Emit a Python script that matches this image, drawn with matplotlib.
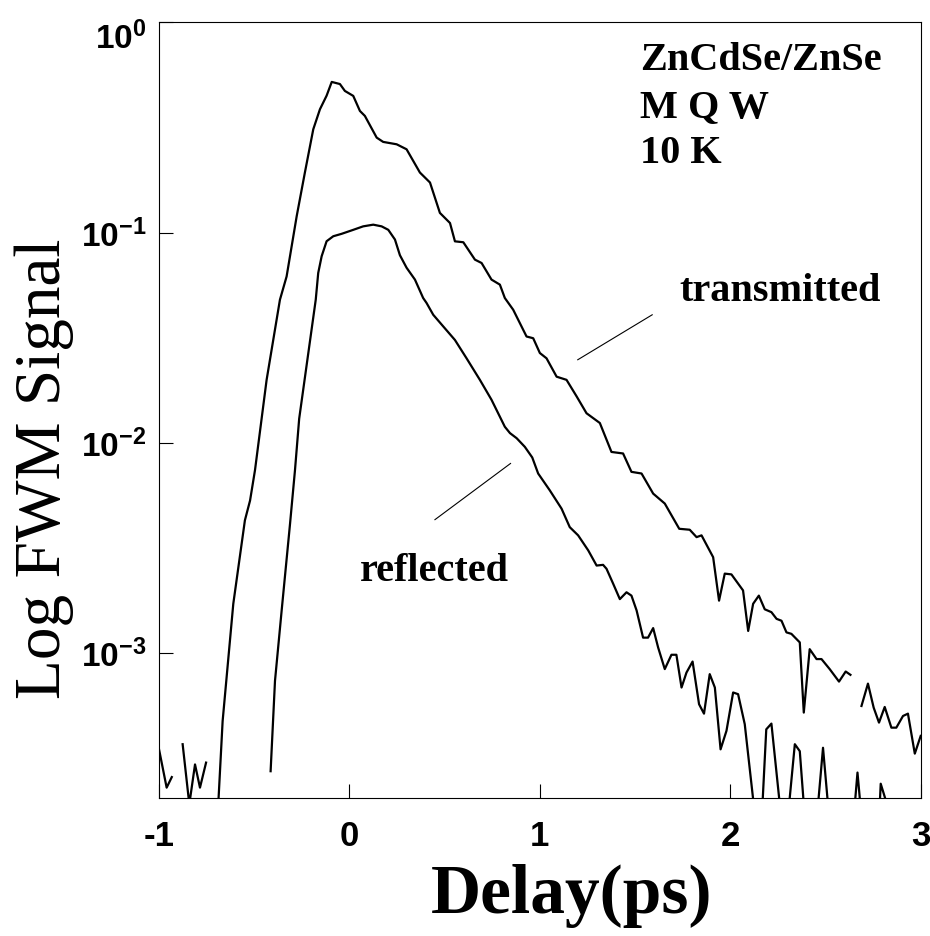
import numpy as np
import matplotlib
matplotlib.use("Agg")
import matplotlib.pyplot as plt
from matplotlib.transforms import ScaledTranslation

# ── data ─────────────────────────────────────────────────────────────────────
# NaN breaks the line where the trace has gaps
trans_delay = [
    -1.000, -0.960, -0.933, np.nan,
    -0.876, -0.841, -0.811, -0.785, -0.753, np.nan,
    -0.689, -0.666, -0.610, -0.549, -0.522, -0.496, -0.435, -0.365, -0.330,
    -0.277, -0.234, -0.190, -0.155, -0.120, -0.093, -0.050, -0.024, 0.020,
    0.055, 0.081, 0.143, 0.177, 0.248, 0.300, 0.370, 0.423, 0.475, 0.528,
    0.554, 0.598, 0.659, 0.694, 0.746, 0.790, 0.816, 0.860, 0.930, 0.965,
    1.000, 1.035, 1.088, 1.140, 1.193, 1.245, 1.315, 1.376, 1.437, 1.481,
    1.534, 1.595, 1.656, 1.732, 1.787, 1.823, 1.849, 1.910, 1.941, 1.971,
    2.006, 2.067, 2.094, 2.120, 2.150, 2.181, 2.216, 2.243, 2.269, 2.295,
    2.321, 2.365, 2.386, 2.417, 2.453, 2.479, 2.522, 2.571, 2.606, 2.631,
    np.nan,
    2.689, 2.723, 2.753, 2.781, 2.811, 2.846, 2.872, 2.907, 2.933, 2.969,
    3.000,
]
trans_signal = [
    3.47e-4, 2.28e-4, 2.56e-4, np.nan,
    3.67e-4, 1.9e-4, 2.94e-4, 2.28e-4, 3.0e-4, np.nan,
    1.9e-4, 4.73e-4, 1.71e-3, 4.27e-3, 5.3e-3, 7.4e-3, 0.0199, 0.0479, 0.0618,
    0.1197, 0.193, 0.310, 0.386, 0.448, 0.521, 0.509, 0.472, 0.447,
    0.379, 0.359, 0.283, 0.270, 0.263, 0.249, 0.193, 0.173, 0.124, 0.111,
    0.0908, 0.0899, 0.0743, 0.0716, 0.0597, 0.0565, 0.0488, 0.0429, 0.0320, 0.0314,
    0.0267, 0.0252, 0.0206, 0.0199, 0.0166, 0.0138, 0.0124, 0.00903, 0.00888, 0.00726,
    0.00713, 0.00572, 0.00513, 0.00389, 0.00385, 0.00355, 0.00362, 0.00285, 0.00177, 0.00238,
    0.00236, 0.00198, 0.00127, 0.00171, 0.00187, 0.00161, 0.00156, 0.00145, 0.00142, 0.00125,
    0.00123, 0.00112, 5.19e-4, 0.00104, 9.33e-4, 9.33e-4, 8.36e-4, 7.29e-4, 8.14e-4, 7.85e-4,
    np.nan,
    5.58e-4, 7.13e-4, 5.48e-4, 4.65e-4, 5.52e-4, 4.40e-4, 4.40e-4, 5.0e-4, 5.13e-4, 3.31e-4,
    4.02e-4,
]

refl_delay = [
    -0.414, -0.391, -0.356, -0.312, -0.286, -0.264, -0.177, -0.164, -0.146, -0.120,
    -0.085, -0.041, 0.020, 0.072, 0.125, 0.169, 0.204, 0.239, 0.265, 0.300,
    0.344, 0.387, 0.405, 0.440, 0.493, 0.554, 0.615, 0.685, 0.746, 0.816,
    0.843, 0.878, 0.921, 0.960, 0.991, 1.052, 1.114, 1.157, 1.201, 1.254,
    1.298, 1.332, 1.350, 1.385, 1.420, 1.455, 1.481, 1.508, 1.542, 1.568,
    1.595, 1.621, 1.656, 1.691, 1.717, 1.744, 1.770, 1.802, 1.836, 1.862,
    1.892, 1.919, 1.949, 1.980, 2.015, 2.041, 2.076, 2.123, 2.169, 2.189,
    2.216, 2.260, 2.309, 2.339, 2.365, 2.386, 2.461, 2.487, 2.513, 2.654,
    2.668, 2.683, 2.785, 2.790, 2.823,
]
refl_signal = [
    2.73e-4, 7.35e-4, 1.59e-3, 4.11e-3, 7.4e-3, 0.0130, 0.0479, 0.0642, 0.0771, 0.0909,
    0.0960, 0.0986, 0.103, 0.107, 0.109, 0.107, 0.103, 0.0926, 0.0780, 0.0680,
    0.0597, 0.0488, 0.0462, 0.0406, 0.0357, 0.0308, 0.0252, 0.0199, 0.0160, 0.0119,
    0.0111, 0.0105, 0.00955, 0.0085, 0.00713, 0.00593, 0.00485, 0.00396, 0.00362, 0.00307,
    0.00260, 0.00262, 0.00251, 0.00213, 0.00180, 0.00194, 0.00187, 0.00159, 0.00118, 0.00118,
    0.00131, 0.00106, 8.36e-4, 9.78e-4, 9.78e-4, 6.83e-4, 8.05e-4, 9.08e-4, 5.69e-4, 5.13e-4,
    7.91e-4, 6.83e-4, 3.47e-4, 4.25e-4, 6.47e-4, 6.35e-4, 4.57e-4, 1.9e-4, 1.9e-4, 4.32e-4,
    4.60e-4, 1.9e-4, 1.9e-4, 3.67e-4, 3.40e-4, 1.9e-4, 1.9e-4, 3.53e-4, 1.9e-4, 1.9e-4,
    2.69e-4, 1.9e-4, 1.9e-4, 2.38e-4, 1.9e-4,
]

# pointer lines from the labels to the curves
trans_pointer_x = [1.199, 1.590]
trans_pointer_y = [0.0248, 0.0406]
refl_pointer_x = [0.449, 0.846]
refl_pointer_y = [4.30e-3, 7.96e-3]

x_ticks = [-1, 0, 1, 2, 3]
x_ticklabels = ["-1", "0", "1", "2", "3"]
y_ticks = [1e-3, 1e-2, 1e-1, 1e0]
y_ticklabels = [r"$\mathbf{10^{-3}}$", r"$\mathbf{10^{-2}}$",
                r"$\mathbf{10^{-1}}$", r"$\mathbf{10^{0}}$"]

# ── styling ──────────────────────────────────────────────────────────────────
plt.rcParams.update({
    "mathtext.fontset": "custom",
    "mathtext.bf": "Liberation Sans:bold",
    "mathtext.rm": "Liberation Sans",
})
SANS = ["Liberation Sans", "DejaVu Sans"]
SERIF = ["Liberation Serif", "DejaVu Serif"]

fig = plt.figure(figsize=(9.30, 9.37), dpi=100)
ax = fig.add_axes([0.171, 0.1475, 0.819, 0.8275])

ax.plot(trans_delay, trans_signal, color="black", lw=1.6)
ax.plot(refl_delay, refl_signal, color="black", lw=1.6)
ax.plot(trans_pointer_x, trans_pointer_y, color="black", lw=0.8)
ax.plot(refl_pointer_x, refl_pointer_y, color="black", lw=0.8)

ax.set_yscale("log")
ax.set_xlim(-1, 3)
ax.set_ylim(2.04e-4, 1)
ax.minorticks_off()
ax.set_xticks(x_ticks)
ax.set_xticklabels(x_ticklabels, fontfamily=SANS, fontweight="bold", fontsize=25)
ax.set_yticks(y_ticks)
ax.set_yticklabels(y_ticklabels, fontsize=24)
ax.tick_params(axis="x", direction="in", length=10, width=0.8, pad=15)
ax.tick_params(axis="y", direction="in", length=10, width=0.8, pad=9)
for s in ax.spines.values():
    s.set_linewidth(0.8)

# top label sits a bit below the top of the frame in the original
top_lbl = ax.get_yticklabels()[-1]
top_lbl.set_transform(top_lbl.get_transform() + ScaledTranslation(0, -0.12, fig.dpi_scale_trans))

fig.text(44 / 930, 1 - 469 / 937, "Log FWM Signal", fontfamily=SERIF, fontsize=47,
         rotation=90, ha="center", va="center")
fig.text(572 / 930, 1 - 913 / 937, "Delay(ps)", fontfamily=SERIF, fontweight="bold",
         fontsize=50, ha="center", va="baseline")

lab = dict(fontfamily=SERIF, fontweight="bold", fontsize=29, ha="left", va="baseline")
ax.text(1.525, 0.60, "ZnCdSe/ZnSe", **lab)
ax.text(1.525, 0.358, "M Q W", **lab)
ax.text(1.525, 0.216, "10 K", **lab)
ax.text(1.735, 0.0479, "transmitted", **lab)
ax.text(0.055, 2.21e-3, "reflected", **lab)

fig.savefig("out.png", dpi=100)
